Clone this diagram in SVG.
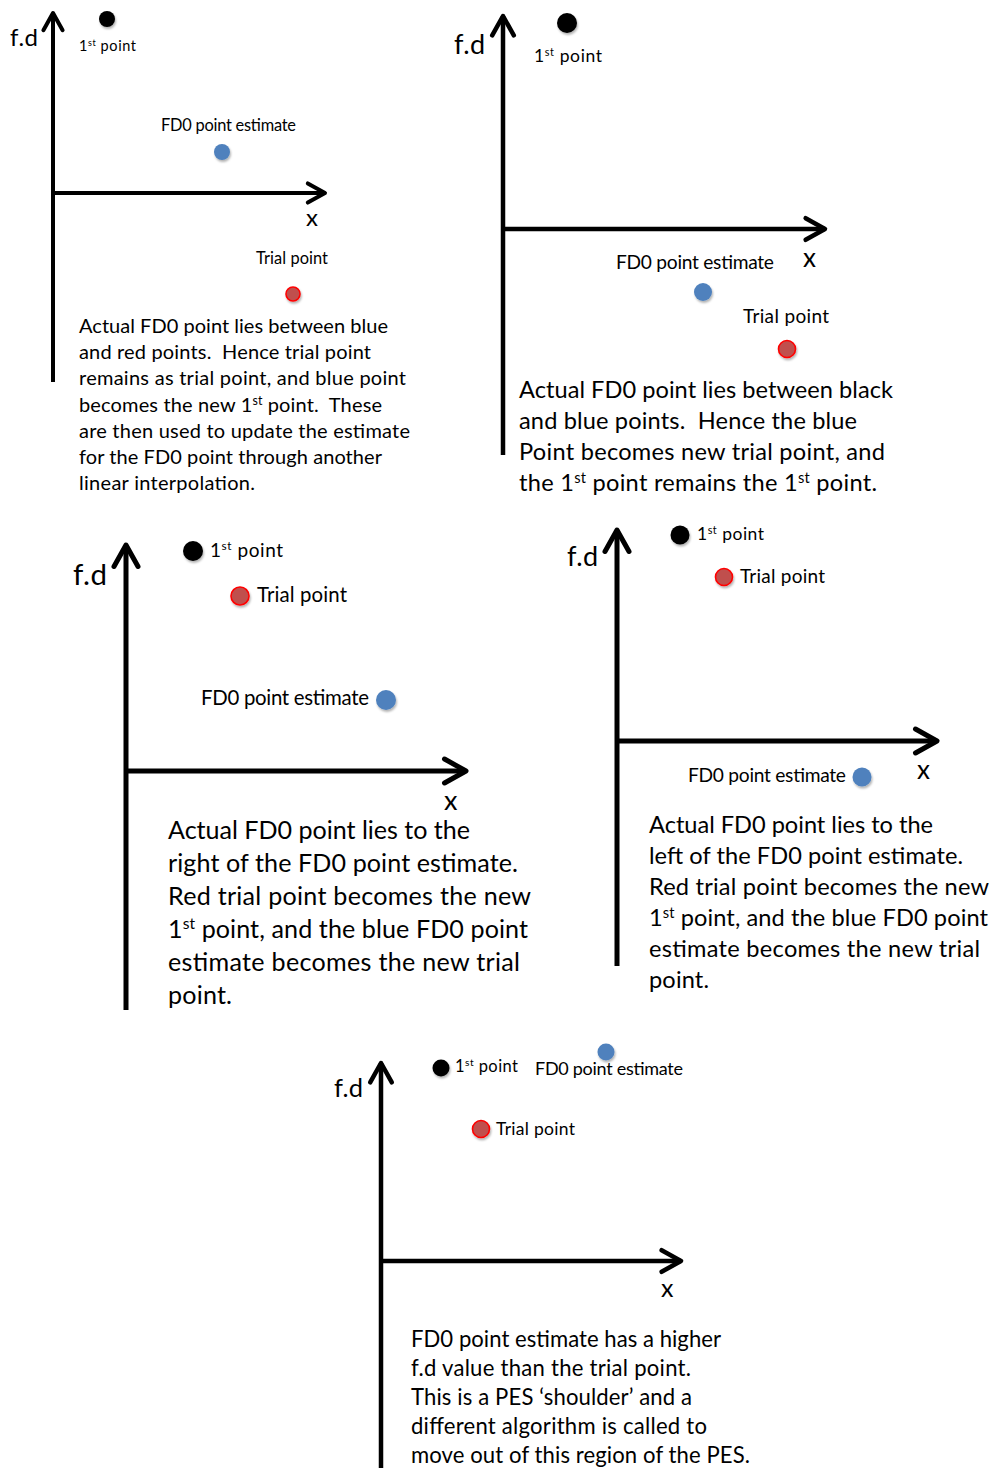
<svg xmlns="http://www.w3.org/2000/svg" width="995" height="1468" viewBox="0 0 995 1468">
<style>
text{font-family:Lato,"Open Sans","Liberation Sans",sans-serif;fill:#000;white-space:pre}
.ax{stroke:#000;fill:none;stroke-linecap:butt;marker-end:url(#arr)}
.blk{fill:#000;filter:url(#sh)}
.blu{fill:#4f81bd;filter:url(#sh)}
.red{fill:#c0504d;stroke:#ff0000;stroke-width:1.6;filter:url(#sh)}
.sup{font-size:62%;baseline-shift:super}
</style>
<defs>
<marker id="arr" markerUnits="strokeWidth" markerWidth="10" markerHeight="10" refX="0" refY="0" orient="auto" overflow="visible">
<path d="M-4.3,-2.4 L0,0 L-4.3,2.4" fill="none" stroke="#000" stroke-width="1" stroke-linecap="round" stroke-linejoin="round"/>
</marker>
<filter id="sh" x="-50%" y="-50%" width="200%" height="200%">
<feDropShadow dx="1" dy="2" stdDeviation="1.3" flood-color="#000" flood-opacity="0.3"/>
</filter>
</defs>
<rect width="995" height="1468" fill="#fff"/>

<!-- Panel 1 -->
<g id="panel1">
<g id="p1-axes" class="connectors">
<line class="ax" x1="53" y1="382" x2="53" y2="13" stroke-width="4"/>
<line class="ax" x1="53" y1="193" x2="325" y2="193" stroke-width="4"/>
</g>
<g id="p1-fd"><text x="10" y="46" font-size="24" textLength="28">f.d</text></g>
<g id="p1-x"><text x="306" y="226" font-size="24" textLength="12">x</text></g>
<g id="p1-first"><circle class="blk" cx="107" cy="19" r="8"/><text x="79" y="51" font-size="14.5" textLength="57">1<tspan class="sup">st</tspan> point</text></g>
<g id="p1-est"><text x="161" y="131" font-size="16.4" textLength="135">FD0 point estimate</text><circle class="blu" cx="222" cy="152" r="8"/></g>
<g id="p1-trial"><text x="256" y="264" font-size="16.4" textLength="72">Trial point</text><circle class="red" cx="293" cy="294" r="7"/></g>
<g id="p1-desc" font-size="20">
<text x="79" y="333" textLength="309">Actual FD0 point lies between blue</text>
<text x="79" y="359.2" textLength="292">and red points.  Hence trial point</text>
<text x="79" y="385.4" textLength="327">remains as trial point, and blue point</text>
<text x="79" y="411.6" textLength="303">becomes the new 1<tspan class="sup">st</tspan> point.  These</text>
<text x="79" y="437.8" textLength="331">are then used to update the estimate</text>
<text x="79" y="464" textLength="303">for the FD0 point through another</text>
<text x="79" y="490.2" textLength="176">linear interpolation.</text>
</g>
</g>

<!-- Panel 2 -->
<g id="panel2">
<g id="p2-axes" class="connectors">
<line class="ax" x1="503" y1="455" x2="503" y2="16" stroke-width="4.5"/>
<line class="ax" x1="503" y1="229" x2="825" y2="229" stroke-width="4.5"/>
</g>
<g id="p2-fd"><text x="454" y="54" font-size="27" textLength="31">f.d</text></g>
<g id="p2-x"><text x="803" y="267" font-size="26" textLength="13">x</text></g>
<g id="p2-first"><circle class="blk" cx="567" cy="23" r="10"/><text x="534" y="62" font-size="17.5" textLength="68">1<tspan class="sup">st</tspan> point</text></g>
<g id="p2-est"><text x="616" y="269" font-size="19.2" textLength="158">FD0 point estimate</text><circle class="blu" cx="703" cy="292" r="9"/></g>
<g id="p2-trial"><text x="743" y="323" font-size="19" textLength="86">Trial point</text><circle class="red" cx="787" cy="349" r="8.5"/></g>
<g id="p2-desc" font-size="23.6">
<text x="519" y="398" textLength="374">Actual FD0 point lies between black</text>
<text x="519" y="429" textLength="338">and blue points.  Hence the blue</text>
<text x="519" y="460" textLength="366">Point becomes new trial point, and</text>
<text x="519" y="491" textLength="358">the 1<tspan class="sup">st</tspan> point remains the 1<tspan class="sup">st</tspan> point.</text>
</g>
</g>

<!-- Panel 3 -->
<g id="panel3">
<g id="p3-axes" class="connectors">
<line class="ax" x1="126" y1="1010" x2="126" y2="545" stroke-width="5"/>
<line class="ax" x1="126" y1="771" x2="466" y2="771" stroke-width="5"/>
</g>
<g id="p3-fd"><text x="73" y="585" font-size="29.5" textLength="34">f.d</text></g>
<g id="p3-x"><text x="444" y="810" font-size="27" textLength="14">x</text></g>
<g id="p3-first"><circle class="blk" cx="193" cy="551" r="10"/><text x="210" y="557" font-size="19" textLength="73">1<tspan class="sup">st</tspan> point</text></g>
<g id="p3-trial"><circle class="red" cx="240" cy="596" r="9"/><text x="257" y="602" font-size="20.4" textLength="90">Trial point</text></g>
<g id="p3-est"><text x="201" y="705" font-size="20.4" textLength="168">FD0 point estimate</text><circle class="blu" cx="386" cy="700" r="10"/></g>
<g id="p3-desc" font-size="25.1">
<text x="168" y="839" textLength="302">Actual FD0 point lies to the</text>
<text x="168" y="872" textLength="350">right of the FD0 point estimate.</text>
<text x="168" y="905" textLength="363">Red trial point becomes the new</text>
<text x="168" y="938" textLength="360">1<tspan class="sup">st</tspan> point, and the blue FD0 point</text>
<text x="168" y="971" textLength="352">estimate becomes the new trial</text>
<text x="168" y="1004" textLength="64">point.</text>
</g>
</g>

<!-- Panel 4 -->
<g id="panel4">
<g id="p4-axes" class="connectors">
<line class="ax" x1="617" y1="966" x2="617" y2="530" stroke-width="5"/>
<line class="ax" x1="617" y1="741" x2="937" y2="741" stroke-width="5"/>
</g>
<g id="p4-fd"><text x="567" y="566" font-size="27" textLength="31">f.d</text></g>
<g id="p4-x"><text x="917" y="779" font-size="26" textLength="12">x</text></g>
<g id="p4-first"><circle class="blk" cx="680" cy="535" r="9.5"/><text x="697" y="540" font-size="17.5" textLength="67">1<tspan class="sup">st</tspan> point</text></g>
<g id="p4-trial"><circle class="red" cx="724" cy="577" r="8.5"/><text x="740" y="583" font-size="19" textLength="85">Trial point</text></g>
<g id="p4-est"><text x="688" y="782" font-size="19.2" textLength="158">FD0 point estimate</text><circle class="blu" cx="862" cy="777" r="9.5"/></g>
<g id="p4-desc" font-size="23.6">
<text x="649" y="833" textLength="284">Actual FD0 point lies to the</text>
<text x="649" y="864" textLength="314">left of the FD0 point estimate.</text>
<text x="649" y="895" textLength="340">Red trial point becomes the new</text>
<text x="649" y="926" textLength="339">1<tspan class="sup">st</tspan> point, and the blue FD0 point</text>
<text x="649" y="957" textLength="331">estimate becomes the new trial</text>
<text x="649" y="988" textLength="60">point.</text>
</g>
</g>

<!-- Panel 5 -->
<g id="panel5">
<g id="p5-axes" class="connectors">
<line class="ax" x1="381" y1="1468" x2="381" y2="1063" stroke-width="4.5"/>
<line class="ax" x1="381" y1="1261" x2="681" y2="1261" stroke-width="4.5"/>
</g>
<g id="p5-fd"><text x="334" y="1097" font-size="25.5" textLength="29">f.d</text></g>
<g id="p5-x"><text x="661" y="1297" font-size="25" textLength="11">x</text></g>
<g id="p5-first"><circle class="blk" cx="441" cy="1068" r="8.5"/><text x="455" y="1072" font-size="16.5" textLength="63">1<tspan class="sup">st</tspan> point</text></g>
<g id="p5-est"><text x="535" y="1075" font-size="18" textLength="148">FD0 point estimate</text><circle class="blu" cx="606" cy="1052" r="8.5"/></g>
<g id="p5-trial"><circle class="red" cx="481" cy="1129" r="8.5"/><text x="496" y="1135" font-size="17.5" textLength="79">Trial point</text></g>
<g id="p5-desc" font-size="22.1">
<text x="411" y="1347" textLength="310">FD0 point estimate has a higher</text>
<text x="411" y="1376" textLength="280">f.d value than the trial point.</text>
<text x="411" y="1405" textLength="281">This is a PES ‘shoulder’ and a</text>
<text x="411" y="1434" textLength="296">different algorithm is called to</text>
<text x="411" y="1463" textLength="339">move out of this region of the PES.</text>
</g>
</g>
</svg>
